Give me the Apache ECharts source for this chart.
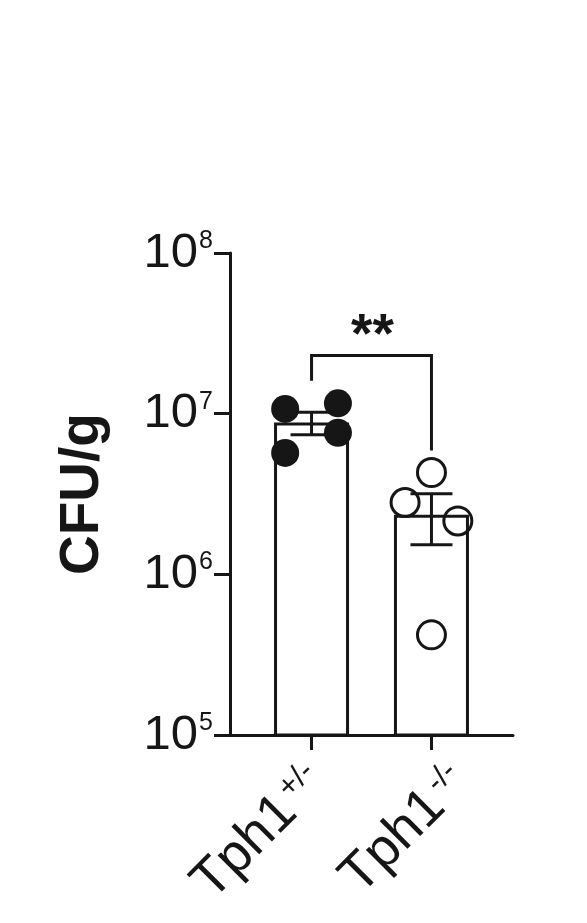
<!DOCTYPE html>
<html style="height: 100%">
   <head>
       <meta charset="utf-8">
   </head>
   <body style="height: 100%; margin: 0; background: #fff">
    <div id="container" style="height: 100%"></div>
       <script type="text/javascript" src="https://cdn.jsdelivr.net/npm/echarts/dist/echarts.min.js"></script>
<script type="text/javascript">
// group names (base + superscript) and their x positions
var catBase = ['Tph1', 'Tph1'];
var catSup = ['+/-', '-/-'];
var catX = [1, 2];

// bar heights (mean) and SEM, CFU/g
var means = [8.8e6, 2.35e6];
var sems = [1.4e6, 0.82e6];

// individual mice, value + small horizontal offset used by the dot plot
var pointsHet = [1.07e7, 1.16e7, 7.6e6, 5.7e6];
var jitterHet = [-0.22, 0.22, 0.22, -0.22];
var pointsKo = [4.3e6, 2.8e6, 2.15e6, 4.2e5];
var jitterKo = [0, -0.22, 0.22, 0];

// significance bracket: top level, left foot, right foot, label
var sigTop = 2.3e7;
var sigFeet = [1.6e7, 5.9e6];
var sigText = '**';

var ink = '#161616';
var font = '"Liberation Sans", Arial, sans-serif';

// the group labels sit a little to the right of their ticks in the original
var labelShift = [0.05, 0.24];

var dom = document.getElementById("container");
var myChart = echarts.init(dom);
var option = null;

var barData = [];
var errData = [];
var labelX = [];
for (var i = 0; i < catX.length; i++) {
    barData.push([catX[i], means[i]]);
    errData.push([catX[i], means[i], sems[i]]);
    labelX.push(catX[i] + labelShift[i]);
}
var hetData = [];
for (var i = 0; i < pointsHet.length; i++) hetData.push([catX[0] + jitterHet[i], pointsHet[i]]);
var koData = [];
for (var i = 0; i < pointsKo.length; i++) koData.push([catX[1] + jitterKo[i], pointsKo[i]]);

option = {
    animation: false,
    backgroundColor: '#fff',
    grid: {
        left: 230,
        right: 74,
        top: 253,
        bottom: 188,
        containLabel: false
    },
    xAxis: {
        type: 'value',
        min: 0.32,
        max: 2.68,
        splitLine: { show: false },
        axisLine: { lineStyle: { color: ink, width: 3 } },
        axisTick: {
            customValues: catX,
            length: 15,
            lineStyle: { color: ink, width: 3 }
        },
        axisLabel: {
            customValues: labelX,
            rotate: 45,
            margin: 40,
            color: ink,
            formatter: function (v) {
                var k = 0, best = Infinity;
                for (var j = 0; j < labelX.length; j++) {
                    if (Math.abs(labelX[j] - v) < best) { best = Math.abs(labelX[j] - v); k = j; }
                }
                return '{b|' + catBase[k] + '}{s|' + catSup[k] + '}';
            },
            rich: {
                b: { fontSize: 54, fontFamily: font, color: ink },
                s: { fontSize: 31, fontFamily: font, color: ink, verticalAlign: 'top', padding: [0, 0, 22, 4] }
            }
        }
    },
    yAxis: {
        type: 'log',
        logBase: 10,
        min: 1e5,
        max: 1e8,
        name: 'CFU/g',
        nameLocation: 'middle',
        nameRotate: 90,
        nameGap: 120,
        nameTextStyle: { fontSize: 55, fontWeight: 'bold', fontFamily: font, color: ink },
        splitLine: { show: false },
        minorTick: { show: false },
        axisLine: { lineStyle: { color: ink, width: 3 } },
        axisTick: { length: 16, lineStyle: { color: ink, width: 3 } },
        axisLabel: {
            margin: 17,
            color: ink,
            formatter: function (v) {
                var e = Math.round(Math.log(v) / Math.LN10);
                return '{b|10}{s|' + e + '}';
            },
            rich: {
                b: { fontSize: 49, fontFamily: font, color: ink },
                s: { fontSize: 25, fontFamily: font, color: ink, verticalAlign: 'top', padding: [0, 0, 14, 1] }
            }
        }
    },
    series: [
        {
            type: 'bar',
            data: barData,
            barWidth: 75,
            itemStyle: { color: '#fff', borderColor: ink, borderWidth: 3 },
            z: 1
        },
        {
            type: 'scatter',
            data: hetData,
            symbol: 'circle',
            symbolSize: 28,
            itemStyle: { color: ink, opacity: 1 },
            z: 2
        },
        {
            type: 'scatter',
            data: koData,
            symbol: 'circle',
            symbolSize: 28,
            itemStyle: { color: 'rgba(0,0,0,0)', borderColor: ink, borderWidth: 3, opacity: 1 },
            z: 2
        },
        {
            type: 'custom',
            data: errData,
            z: 3,
            renderItem: function (params, api) {
                var x = api.value(0), m = api.value(1), s = api.value(2);
                var hi = api.coord([x, m + s]);
                var lo = api.coord([x, m - s]);
                var cap = 21;
                var st = { stroke: ink, lineWidth: 3 };
                return {
                    type: 'group',
                    children: [
                        { type: 'line', shape: { x1: hi[0], y1: hi[1], x2: lo[0], y2: lo[1] }, style: st },
                        { type: 'line', shape: { x1: hi[0] - cap, y1: hi[1], x2: hi[0] + cap, y2: hi[1] }, style: st },
                        { type: 'line', shape: { x1: lo[0] - cap, y1: lo[1], x2: lo[0] + cap, y2: lo[1] }, style: st }
                    ]
                };
            }
        },
        {
            type: 'custom',
            data: [[catX[0], catX[1], sigTop, sigFeet[0], sigFeet[1]]],
            z: 3,
            renderItem: function (params, api) {
                var a = api.coord([api.value(0), api.value(3)]);
                var b = api.coord([api.value(0), api.value(2)]);
                var c = api.coord([api.value(1), api.value(2)]);
                var d = api.coord([api.value(1), api.value(4)]);
                return {
                    type: 'group',
                    children: [
                        {
                            type: 'polyline',
                            shape: { points: [a, b, c, d] },
                            style: { stroke: ink, lineWidth: 3, fill: null }
                        },
                        {
                            type: 'text',
                            x: (b[0] + c[0]) / 2 + 1,
                            y: b[1] + 9,
                            style: {
                                text: sigText,
                                fontSize: 55,
                                fontWeight: 'bold',
                                fontFamily: font,
                                fill: ink,
                                align: 'center',
                                verticalAlign: 'bottom'
                            }
                        }
                    ]
                };
            }
        }
    ]
};

if (option && typeof option === "object") {
    myChart.setOption(option, true);
}
</script>
   </body>
</html>
